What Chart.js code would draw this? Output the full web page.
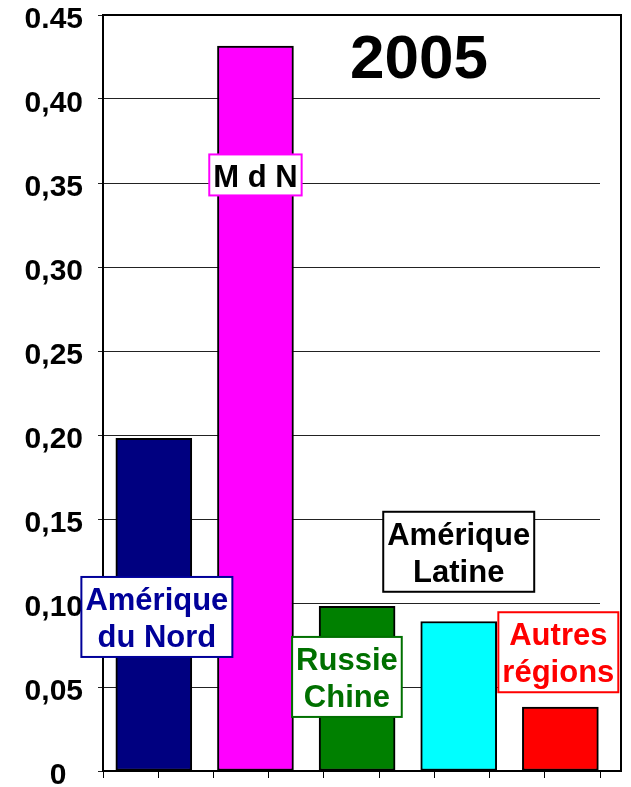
<!DOCTYPE html>
<html>
<head>
<meta charset="utf-8">
<script src="https://cdn.jsdelivr.net/npm/chart.js@4/dist/chart.umd.min.js"></script>
<style>
  html, body { margin: 0; padding: 0; background: #fff; }
  canvas { display: block; }
</style>
</head>
<body>
<canvas id="chart" width="631" height="787"></canvas>
<script>
// data
var categories = ["Amérique du Nord", "M d N", "Russie Chine", "Amérique Latine", "Autres régions"];
var shares = [0.198, 0.4315, 0.098, 0.089, 0.038];
var barColors = ["#000080", "#ff00ff", "#008000", "#00ffff", "#ff0000"];
var yTickLabels = ["0  ", "0,05", "0,10", "0,15", "0,20", "0,25", "0,30", "0,35", "0,40", "0.45"];
var title = "2005";

// label boxes (position in axis units, colours)
var boxLines = [["Amérique", "du Nord"], ["M d N"], ["Russie", "Chine"], ["Amérique", "Latine"], ["Autres", "régions"]];
var boxAt = [[0.03, 0.1155], [1.0, 0.367], [1.9, 0.0798], [3.0, 0.1543], [3.98, 0.0945]];
var boxText = ["#000099", "#000000", "#007000", "#000000", "#ff0000"];
var boxBorder = ["#000099", "#ff00ff", "#007000", "#000000", "#ff0000"];

var font = "'Liberation Sans', Arial, sans-serif";

var overlay = {
    id: "overlay",
    afterDatasetsDraw: function(chart) {
        var ctx = chart.ctx;
        var a = chart.chartArea;
        var xs = chart.scales.x, ys = chart.scales.y;
        var frameRight = 621;

        // outer frame
        ctx.save();
        ctx.strokeStyle = "#000";
        ctx.lineWidth = 2;
        ctx.beginPath();
        ctx.moveTo(a.left, a.top);
        ctx.lineTo(frameRight, a.top);
        ctx.lineTo(frameRight, a.bottom);
        ctx.lineTo(a.left, a.bottom);
        ctx.stroke();

        // title
        ctx.fillStyle = "#000";
        ctx.font = "bold 62px " + font;
        ctx.textAlign = "center";
        ctx.textBaseline = "alphabetic";
        ctx.fillText(title, 419, 78);

        // boxes
        ctx.font = "bold 31px " + font;
        for (var i = 0; i < boxLines.length; i++) {
            var lines = boxLines[i];
            var w = 0;
            for (var j = 0; j < lines.length; j++) {
                w = Math.max(w, ctx.measureText(lines[j]).width);
            }
            w += 8;
            var h = lines.length == 1 ? 41 : 80;
            var cx = xs.getPixelForValue(boxAt[i][0]);
            var top = ys.getPixelForValue(boxAt[i][1]);
            ctx.fillStyle = "#fff";
            ctx.fillRect(cx - w / 2, top, w, h);
            ctx.strokeStyle = boxBorder[i];
            ctx.lineWidth = 2;
            ctx.strokeRect(cx - w / 2, top, w, h);
            ctx.fillStyle = boxText[i];
            for (var j = 0; j < lines.length; j++) {
                ctx.fillText(lines[j], cx, top + 33 + j * 37);
            }
        }
        ctx.restore();
    }
};

new Chart(document.getElementById("chart"), {
    type: "bar",
    data: {
        labels: categories,
        datasets: [{
            data: shares.map(function(v, i) { return { x: i, y: v }; }),
            backgroundColor: barColors,
            borderColor: "#000",
            borderWidth: 2,
            borderSkipped: false,
            barThickness: 76
        }]
    },
    options: {
        responsive: false,
        animation: false,
        devicePixelRatio: 1,
        layout: { padding: { top: 15, right: 31, bottom: 9, left: 0 } },
        plugins: { legend: { display: false }, tooltip: { enabled: false } },
        scales: {
            x: {
                type: "linear",
                display: false,
                offset: false,
                min: -0.5,
                max: 4.39
            },
            xt: {
                type: "linear",
                position: "bottom",
                offset: false,
                min: 0,
                max: 9,
                ticks: { display: false, stepSize: 1 },
                grid: { offset: false, drawOnChartArea: false, drawTicks: true, tickLength: 7, color: "#000", lineWidth: 1 },
                border: { display: true, color: "#000", width: 2 }
            },
            y: {
                min: 0,
                max: 0.45,
                afterFit: function(s) {
                    s.width = 103;
                    s.paddingTop = 0;
                    s.paddingBottom = 0;
                },
                ticks: {
                    stepSize: 0.05,
                    padding: 15,
                    labelOffset: 5,
                    color: "#000",
                    font: { family: font, size: 30, weight: "bold" },
                    callback: function(v, i) { return yTickLabels[i]; }
                },
                grid: { color: "#222", lineWidth: 1, tickLength: 5 },
                border: { display: true, color: "#000", width: 2 }
            }
        }
    },
    plugins: [overlay]
});
</script>
</body>
</html>
